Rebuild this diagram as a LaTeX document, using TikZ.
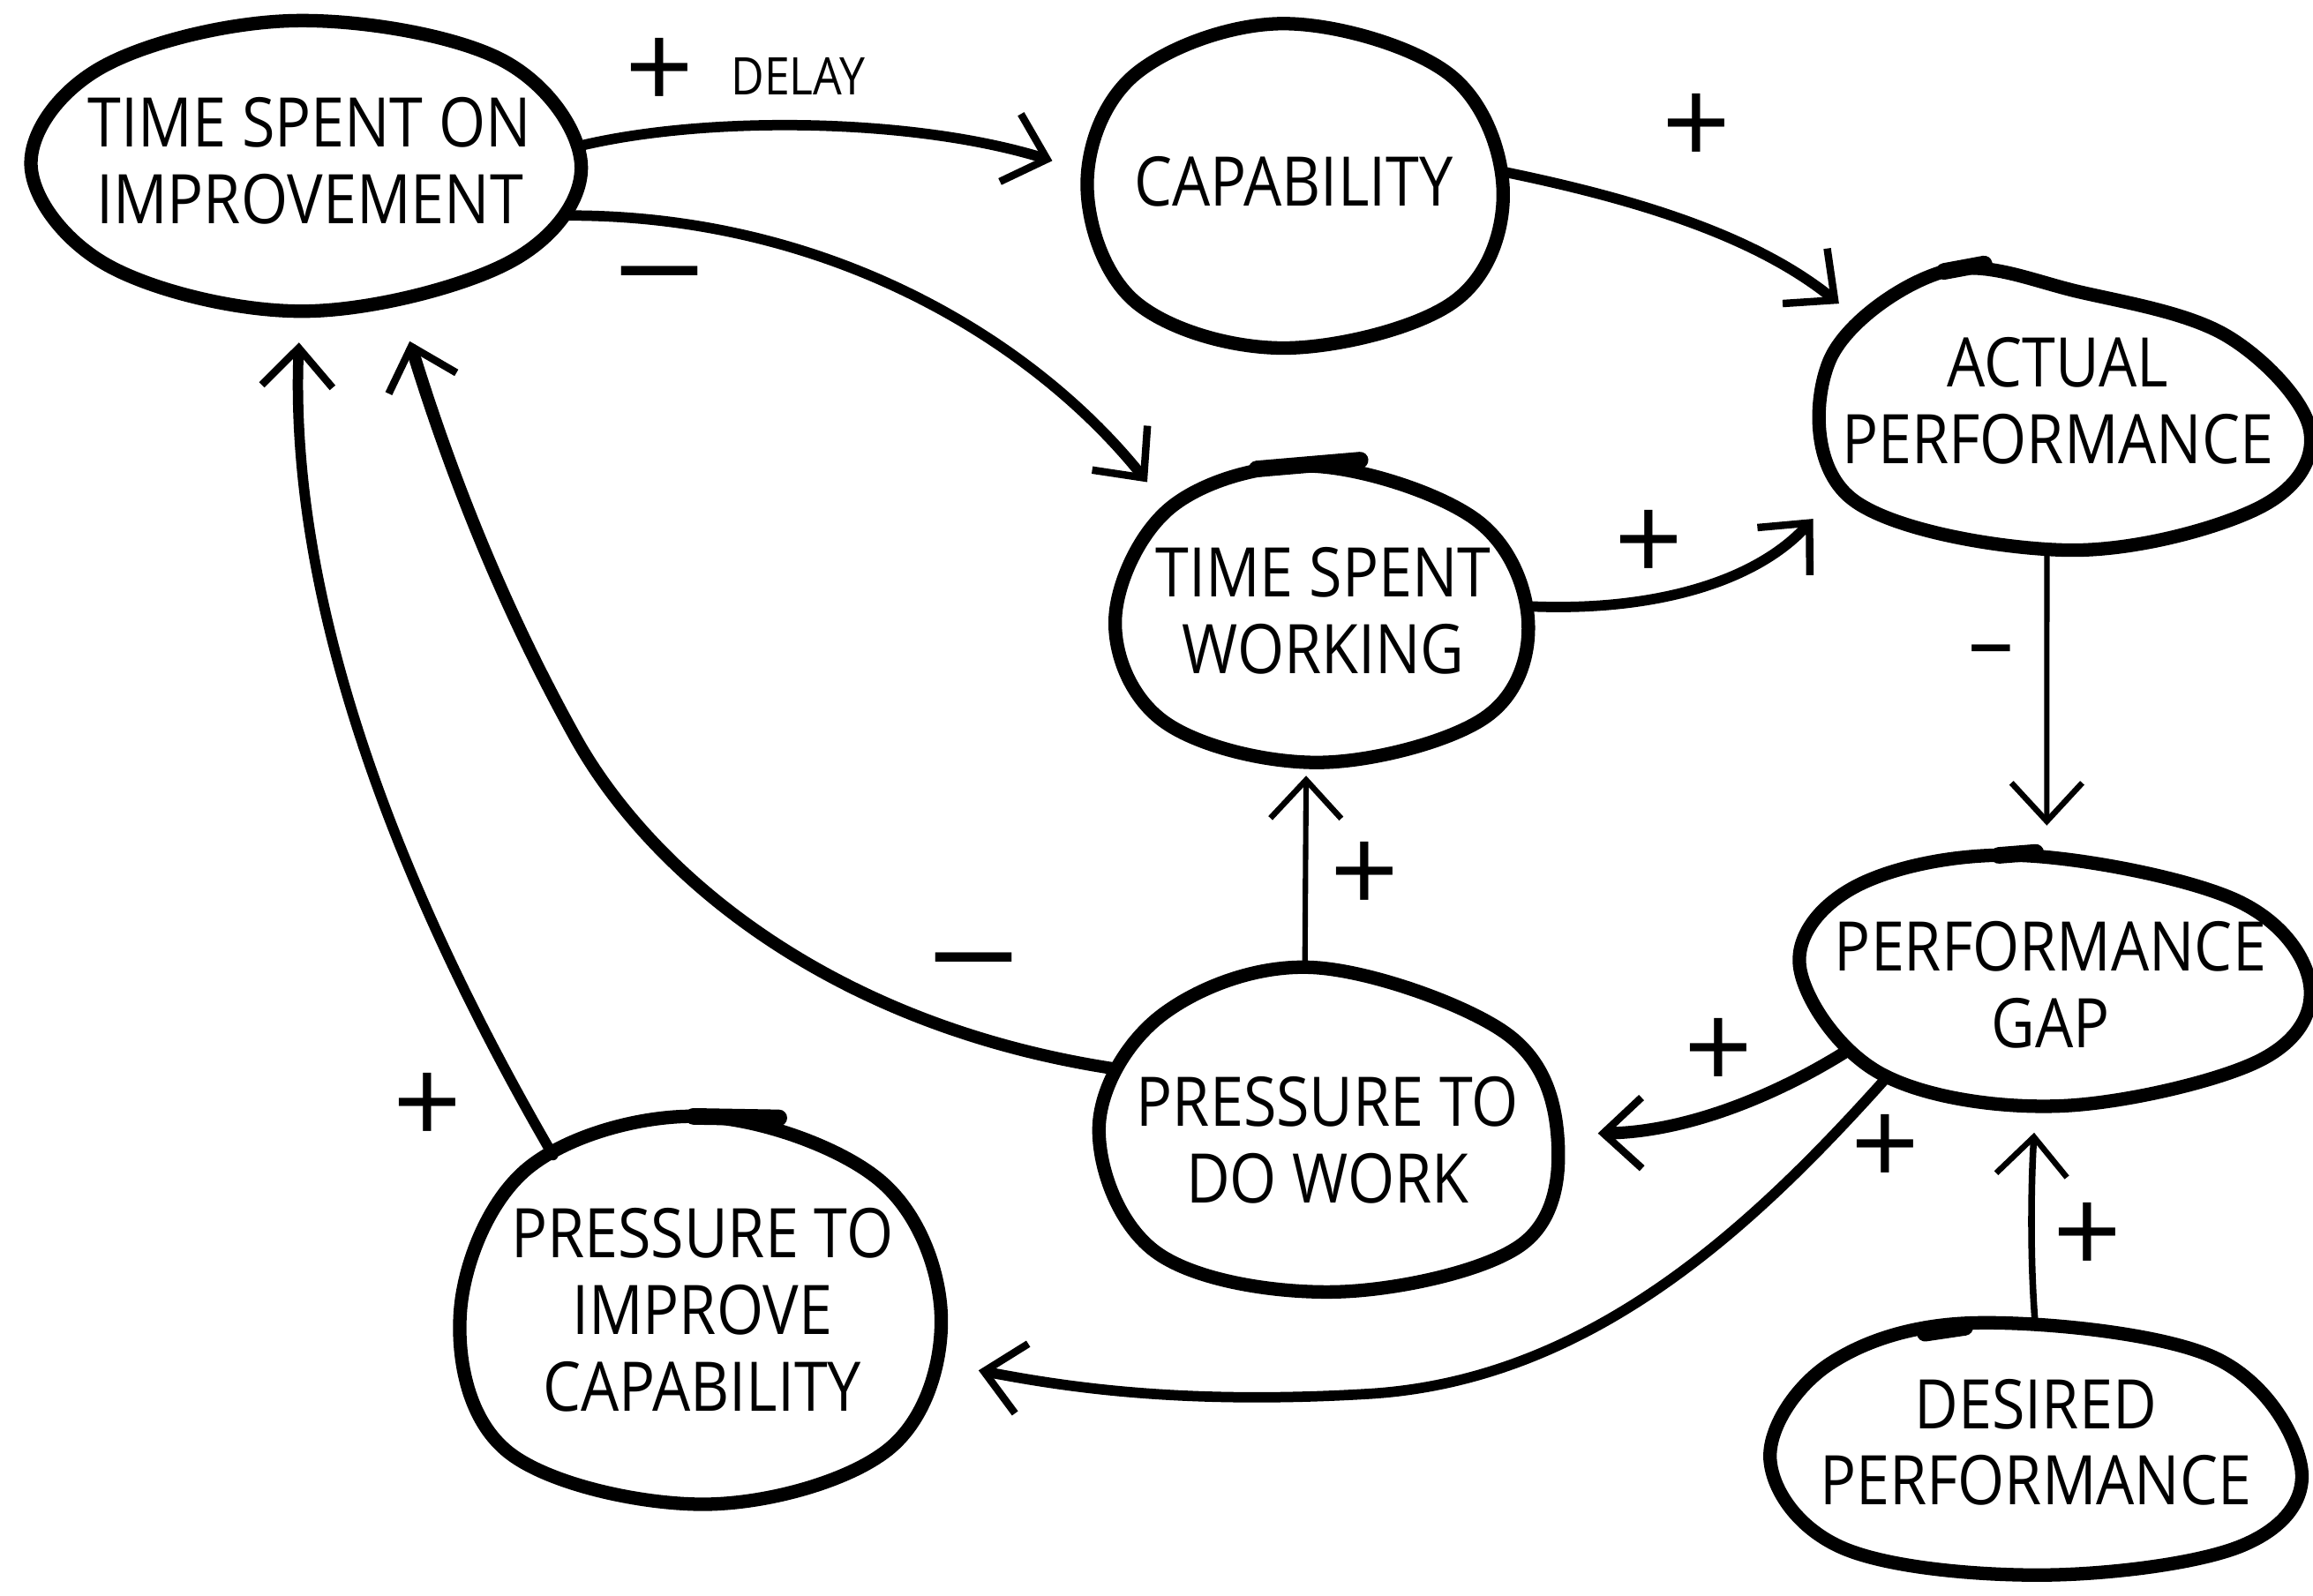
\documentclass[tikz,border=0pt]{standalone}
\usepackage{fontspec}
\setmainfont{Open Sans}[FakeStretch=0.88]
\newfontfamily\signfont{Open Sans}
\usetikzlibrary{arrows.meta,shapes.geometric}

\tikzset{
  hub/.style={shape=ellipse, inner sep=0pt, draw=none},
  blob/.style={line width=6.5pt, line join=round},
  overlap/.style={line width=8pt, line cap=round},
  caption/.style={align=center, inner sep=0pt, font=\fontsize{33}{37}\selectfont},
  small caption/.style={inner sep=0pt, font=\fontsize{25}{28}\selectfont},
  possign/.style={inner sep=0pt, font=\signfont\fontsize{58}{58}\selectfont},
  negsign/.style={inner sep=0pt, font=\signfont\bfseries\fontsize{40}{40}\selectfont},
  link/.style={line width=5pt, line cap=round,
    -{Straight Barb[length=6.5mm,width=12mm,line width=3.6pt]}},
  thin link/.style={line width=2.6pt, line cap=round,
    -{Straight Barb[length=6.5mm,width=12mm,line width=2.8pt]}},
}

\begin{document}
\begin{tikzpicture}[x=0.25mm,y=-0.25mm]
\fill[white] (0,0) rectangle (1568,1082);
\useasboundingbox (0,0) rectangle (1568,1082);

% anchor ellipses for the variables
\node[hub, minimum width=93.5mm, minimum height=49mm] (tsoi) at (207,112) {};
\node[hub, minimum width=70.5mm, minimum height=55mm] (cap)  at (877,126) {};
\node[hub, minimum width=85mm,   minimum height=48mm] (act)  at (1396,278) {};
\node[hub, minimum width=70mm,   minimum height=50mm] (tsw)  at (896,416) {};
\node[hub, minimum width=86.5mm, minimum height=42.5mm] (gap) at (1392,665) {};
\node[hub, minimum width=77.5mm, minimum height=55mm] (pdw)  at (900,766) {};
\node[hub, minimum width=81.5mm, minimum height=65.5mm] (pic) at (475,887) {};
\node[hub, minimum width=89mm,   minimum height=43mm] (des)  at (1378,982) {};

% hand-drawn outlines
\draw[blob] plot[smooth cycle, tension=0.6] coordinates {(394,112) (339,40) (200,14) (70,45) (21,112) (75,181) (207,211) (345,178)};
\draw[blob] plot[smooth cycle, tension=0.6] coordinates {(1019,130) (982,50) (870,16) (770,50) (737,125) (770,205) (870,236) (985,205)};
\draw[blob] plot[smooth cycle, tension=0.6] coordinates {(1566,292) (1510,228) (1410,198) (1318,184) (1240,245) (1255,338) (1400,373) (1530,345)};
\draw[blob] plot[smooth cycle, tension=0.6] coordinates {(1036,422) (1000,352) (890,316) (795,343) (756,420) (790,490) (895,517) (1006,487)};
\draw[blob] plot[smooth cycle, tension=0.6] coordinates {(1566,668) (1515,610) (1370,580) (1260,600) (1220,655) (1275,728) (1395,750) (1530,720)};
\draw[blob] plot[smooth cycle, tension=0.6] coordinates {(1056,772) (1020,700) (890,656) (788,688) (745,765) (785,850) (905,876) (1030,845)};
\draw[blob] plot[smooth cycle, tension=0.6] coordinates {(638,892) (596,800) (475,757) (358,792) (312,890) (345,985) (478,1020) (602,983)};
\draw[blob] plot[smooth cycle, tension=0.6] coordinates {(1560,995) (1500,920) (1340,897) (1240,925) (1200,990) (1250,1050) (1385,1068) (1520,1048)};

% pen overlaps where each outline was closed
\draw[overlap] (852,318) -- (922,312);
\draw[overlap] (1318,184) -- (1345,179);
\draw[overlap] (1355,580) -- (1380,578);
\draw[overlap] (1305,904) -- (1332,900);
\draw[overlap] (470,757) -- (528,758);

% variable names
\node[caption] (tsoi-t) at (210,109) {TIME SPENT ON\\IMPROVEMENT};
\node[caption] (cap-t)  at (877,123) {CAPABILITY};
\node[caption] (act-t)  at (1395,272) {ACTUAL\\PERFORMANCE};
\node[caption] (tsw-t)  at (897,414) {TIME SPENT\\WORKING};
\node[caption] (gap-t)  at (1390,668) {PERFORMANCE\\GAP};
\node[caption] (pdw-t)  at (900,773) {PRESSURE TO\\DO WORK};
\node[caption] (pic-t)  at (476,888) {PRESSURE TO\\IMPROVE\\CAPABILITY};
\node[caption] (des-t)  at (1380,978) {DESIRED\\PERFORMANCE};

% causal links
\draw[link, shorten >=6mm] (tsoi.4) .. controls (480,78) and (620,80) .. (cap.176);
\draw[link, shorten >=6.5mm] (tsoi.-11) .. controls (560,145) and (700,230) .. (tsw.146);
\draw[link, shorten >=5mm] (cap.4) .. controls (1110,135) and (1190,160) .. (act.156);
\draw[link, shorten >=8mm] (tsw.2) .. controls (1120,415) and (1190,395) .. (act.199);
\draw[thin link, shorten >=5mm] (act.-95) -- (gap.93);
\draw[link, line width=6pt, shorten >=7mm] (gap.199) .. controls (1200,745) and (1140,768) .. (pdw.-1);
\draw[link, shorten >=8mm] (gap.210) .. controls (1190,830) and (1080,935) .. (930,945) .. controls (800,953) and (720,940) .. (pic.-13);
\draw[thin link, line width=3.2pt, shorten >=4.5mm] (des.89) .. controls (1376,850) and (1377,800) .. (gap.-98);
\draw[thin link, shorten >=2.5mm] (pdw.98) -- (tsw.-96);
\draw[link, line width=6pt, shorten >=7mm] (pdw.164) .. controls (560,695) and (440,590) .. (390,500) .. controls (340,410) and (305,320) .. (tsoi.-56);
\draw[link, shorten >=5.5mm] (pic.134) .. controls (280,620) and (195,420) .. (tsoi.-92);

% polarity labels
\node[possign] (s-a) at (447,50) {+};
\node[small caption] (s-delay) at (541,52) {DELAY};
\node[negsign] (s-b) at (447,190) {—};
\node[possign] (s-c) at (1150,88) {+};
\node[possign] (s-d) at (1118,370) {+};
\node[negsign, font=\signfont\fontsize{44}{44}\selectfont] (s-e) at (1350,447) {–};
\node[possign] (s-f) at (1165,715) {+};
\node[possign] (s-g) at (1278,780) {+};
\node[possign] (s-h) at (1415,840) {+};
\node[possign] (s-i) at (925,595) {+};
\node[negsign] (s-j) at (660,655) {—};
\node[possign] (s-k) at (290,752) {+};
\end{tikzpicture}
\end{document}
